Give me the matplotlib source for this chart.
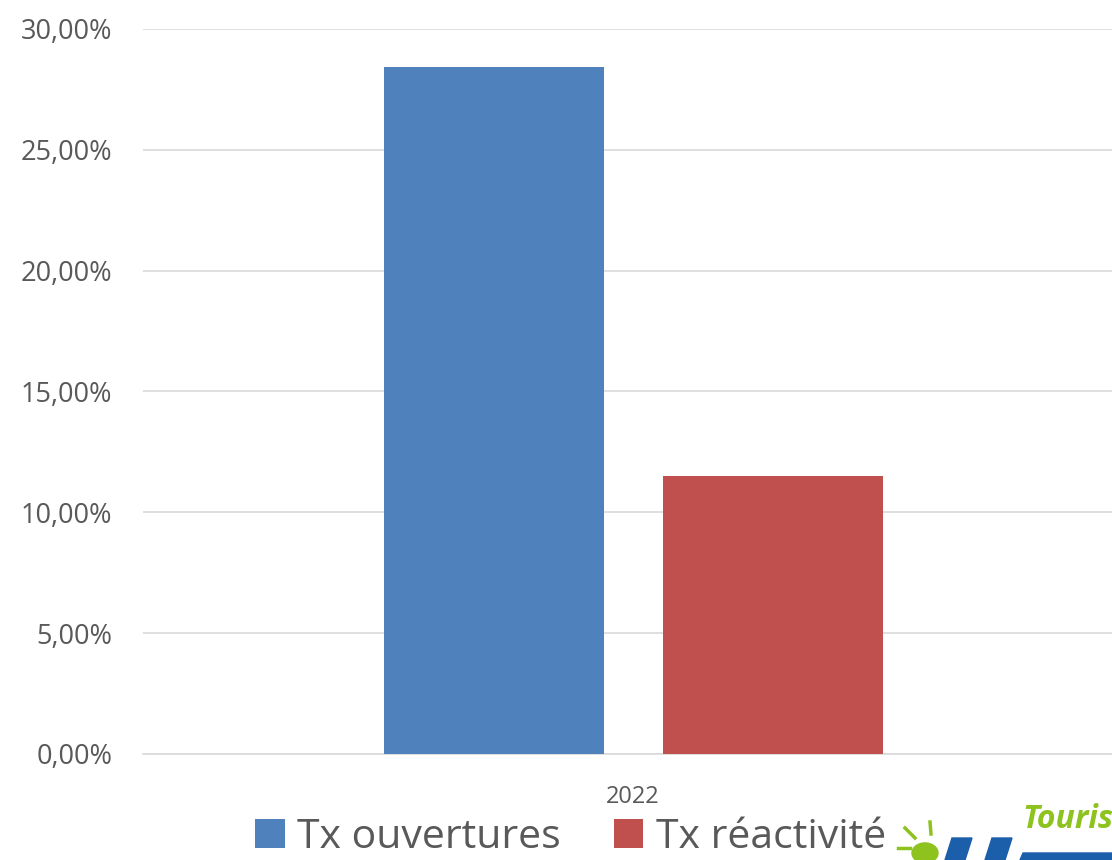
import matplotlib
matplotlib.use("Agg")
import matplotlib.pyplot as plt
from matplotlib.patches import Circle, Polygon
from matplotlib.ticker import FuncFormatter

categories = ["2022"]
series_names = ["Tx ouvertures", "Tx réactivité"]
series_values = [[28.43], [11.50]]
series_colors = ["#4F81BD", "#C0504D"]
y_ticks = [0, 5, 10, 15, 20, 25, 30]

W, H = 1112, 860
fig = plt.figure(figsize=(W / 100, H / 100), dpi=100)
ax = fig.add_axes([143 / W, 1 - 754 / H, (W - 143) / W, (754 - 29) / H])

bar_w = 220 / 980
offsets = [-139 / 980, 140 / 980]
for i, (name, vals) in enumerate(zip(series_names, series_values)):
    ax.bar([k + offsets[i] for k in range(len(categories))], vals, width=bar_w,
           color=series_colors[i], label=name, zorder=3)

ax.set_xlim(-0.5, 0.5 - 11 / 980)
ax.set_ylim(0, 30)
ax.set_yticks(y_ticks)
ax.yaxis.set_major_formatter(FuncFormatter(lambda v, p: f"{v:.2f}".replace(".", ",") + "%"))
ax.set_xticks(range(len(categories)))
ax.set_xticklabels(categories)
ax.grid(axis="y", color="#D9D9D9", linewidth=1.2, zorder=0)
for s in ["top", "right", "left"]:
    ax.spines[s].set_visible(False)
ax.spines["bottom"].set_color("#D9D9D9")
ax.spines["bottom"].set_linewidth(1.2)
ax.tick_params(axis="both", length=0, colors="#595959")
ax.tick_params(axis="y", labelsize=19.5, pad=22)
ax.tick_params(axis="x", labelsize=17, pad=22)
for t in ax.get_yticklabels() + ax.get_xticklabels():
    t.set_fontfamily("Open Sans")
    t.set_color("#595959")

handles, labels = ax.get_legend_handles_labels()
leg = fig.legend(handles, labels, loc="lower left", bbox_to_anchor=(255 / W, 2 / H),
                 ncol=2, frameon=False, handlelength=0.72, handleheight=0.72,
                 handletextpad=0.3, columnspacing=1.3, borderpad=0, borderaxespad=0,
                 prop={"family": "Open Sans", "size": 29.5})
for t in leg.get_texts():
    t.set_color("#595959")

# partial logo at bottom right
fig.text(1022 / W, 1 - 820 / H, "Touris", color="#8DC21F", fontsize=23, fontweight="bold",
         fontstyle="italic", family="Open Sans", ha="left", va="center")
fig.patches.append(Circle((925 / W, 1 - 853 / H), 13 / W, transform=fig.transFigure,
                          color="#8DC21F", zorder=5))
for (x0, y0, x1, y1) in [(905, 828, 915, 838), (930, 822, 931, 834), (898, 848, 910, 848)]:
    fig.add_artist(plt.Line2D([x0 / W, x1 / W], [1 - y0 / H, 1 - y1 / H], color="#8DC21F",
                              lw=2.5, transform=fig.transFigure))
fig.patches.append(Polygon([(945 / W, 1 - 860 / H), (952 / W, 1 - 838 / H), (972 / W, 1 - 838 / H),
                            (965 / W, 1 - 860 / H)], closed=True, transform=fig.transFigure,
                           color="#1B5FAA", zorder=5))
fig.patches.append(Polygon([(985 / W, 1 - 860 / H), (992 / W, 1 - 838 / H), (1012 / W, 1 - 838 / H),
                            (1005 / W, 1 - 860 / H)], closed=True, transform=fig.transFigure,
                           color="#1B5FAA", zorder=5))
fig.patches.append(Polygon([(1020 / W, 1 - 860 / H), (1023 / W, 1 - 853 / H), (1112 / W, 1 - 853 / H),
                            (1112 / W, 1 - 860 / H)], closed=True, transform=fig.transFigure,
                           color="#1B5FAA", zorder=5))

fig.savefig("out.png", dpi=100)
